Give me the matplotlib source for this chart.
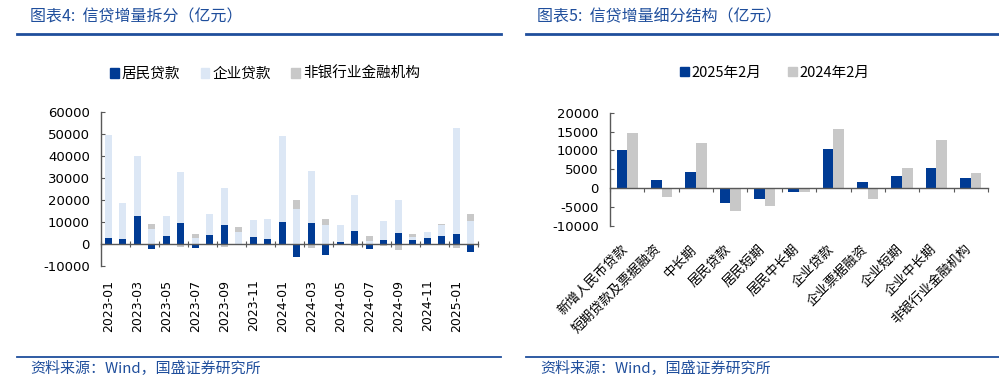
import numpy as np
import matplotlib
matplotlib.use('Agg')
import matplotlib.pyplot as plt
from matplotlib.patches import Patch
from matplotlib.lines import Line2D

plt.rcParams['font.family'] = ['Noto Sans CJK SC', 'DejaVu Sans']
plt.rcParams['axes.unicode_minus'] = False

# 图表4 数据: 2023-01 ~ 2025-02 信贷增量拆分(亿元)
months = ['2023-01', '2023-02', '2023-03', '2023-04', '2023-05', '2023-06',
          '2023-07', '2023-08', '2023-09', '2023-10', '2023-11', '2023-12',
          '2024-01', '2024-02', '2024-03', '2024-04', '2024-05', '2024-06',
          '2024-07', '2024-08', '2024-09', '2024-10', '2024-11', '2024-12',
          '2025-01', '2025-02']
household = [2570, 2000, 12400, -2600, 3600, 9500, -2000, 3800, 8500, -350, 2900, 2100,
             9700, -5900, 9200, -5200, 600, 5600, -2300, 1700, 5000, 1500, 2400, 3500,
             4300, -3900]
corporate = [47000, 16600, 27300, 6500, 9000, 23000, 2400, 9500, 17000, 5500, 8100, 9000,
             39400, 15600, 23800, 8600, 7700, 16400, 1400, 8600, 14900, 1500, 2700, 4800,
             48300, 10300]
nonbank = [0, 0, 0, 2300, 200, -1600, 2000, 0, -1600, 1900, 0, 0,
           0, 4200, -2100, 2800, 0, -1200, 2100, -1200, -2800, 1200, 0, 800,
           -1800, 3100]
series_names = ['居民贷款', '企业贷款', '非银行业金融机构']

# 图表5 数据: 信贷增量细分结构(亿元)
cats = ['新增人民币贷款', '短期贷款及票据融资', '中长期', '居民贷款', '居民短期', '居民中长期',
        '企业贷款', '企业票据融资', '企业短期', '企业中长期', '非银行业金融机构']
feb2025 = [10100, 2200, 4300, -3900, -2800, -1100, 10400, 1700, 3200, 5300, 2800]
feb2024 = [14600, -2300, 12000, -5900, -4800, -900, 15800, -2800, 5300, 12900, 4000]

dark_blue = '#003B94'
light_blue = '#DCE7F5'
grey = '#C8C8C8'
head_blue = '#1F4E9C'
axis_col = '#595959'

W, H = 999, 385
fig = plt.figure(figsize=(W / 100, H / 100), dpi=100)


def px_axes(x0, y0, x1, y1):
    return fig.add_axes([x0 / W, 1 - y1 / H, (x1 - x0) / W, (y1 - y0) / H])


# 标题与分隔线
fig.text(30 / W, 1 - 17 / H, '图表4:  信贷增量拆分（亿元）', color=head_blue, fontsize=11.5,
         va='center', ha='left', style='italic')
fig.text(537 / W, 1 - 17 / H, '图表5:  信贷增量细分结构（亿元）', color=head_blue, fontsize=11.5,
         va='center', ha='left', style='italic')
for xa, xb in [(17, 501), (526, 999)]:
    fig.add_artist(Line2D([xa / W, xb / W], [1 - 34 / H] * 2, color=head_blue, lw=2))
    fig.add_artist(Line2D([xa / W, xb / W], [1 - 356.5 / H] * 2, color=head_blue, lw=1.3))
fig.text(30 / W, 1 - 369 / H, '资料来源：Wind，国盛证券研究所', color=head_blue, fontsize=10.8,
         va='center', ha='left', style='italic')
fig.text(540 / W, 1 - 369 / H, '资料来源：Wind，国盛证券研究所', color=head_blue, fontsize=10.8,
         va='center', ha='left', style='italic')

# ---------------- 左图: 堆叠柱状图 ----------------
ax = px_axes(101, 111.7, 478, 265.7)
x = np.arange(len(months))
pos_base = np.zeros(len(months))
neg_base = np.zeros(len(months))
for vals, col in zip([household, corporate, nonbank], [dark_blue, light_blue, grey]):
    v = np.array(vals, dtype=float)
    base = np.where(v >= 0, pos_base, neg_base)
    ax.bar(x, v, bottom=base, width=0.45, color=col, zorder=2)
    pos_base += np.where(v >= 0, v, 0)
    neg_base += np.where(v < 0, v, 0)

ax.set_xlim(-0.5, len(months) - 0.5)
ax.set_ylim(-10000, 60000)
ax.set_yticks(np.arange(-10000, 60001, 10000))
ax.spines['top'].set_visible(False)
ax.spines['right'].set_visible(False)
ax.spines['bottom'].set_position(('data', 0))
for s in ['left', 'bottom']:
    ax.spines[s].set_color(axis_col)
    ax.spines[s].set_linewidth(1)
ax.set_xticks(np.arange(-0.5, len(months), 2))
ax.set_xticklabels([])
ax.tick_params(axis='x', direction='inout', length=5, color=axis_col)
ax.tick_params(axis='y', direction='in', length=3, color=axis_col, labelsize=9.5, pad=8)
for lab in ax.get_yticklabels():
    lab.set_fontfamily('DejaVu Sans')
for i in range(0, len(months), 2):
    ax.annotate(months[i], xy=(i, 0), xycoords=('data', 'axes fraction'),
                xytext=(0, -10), textcoords='offset points', rotation=90,
                ha='center', va='top', fontsize=9, family='DejaVu Sans')

handles = [Patch(color=c) for c in [dark_blue, light_blue, grey]]
fig.legend(handles, series_names, loc='center', bbox_to_anchor=(265 / W, 1 - 74 / H),
           ncol=3, frameon=False, fontsize=10.5, handlelength=0.6, handleheight=0.6,
           handletextpad=0.2, columnspacing=1.4)

# ---------------- 右图: 分组柱状图 ----------------
ax2 = px_axes(610, 112.7, 988, 226)
xc = np.arange(len(cats))
bw = 0.31
ax2.bar(xc - bw / 2, feb2025, width=bw, color=dark_blue, zorder=2)
ax2.bar(xc + bw / 2, feb2024, width=bw, color=grey, zorder=2)
ax2.set_xlim(-0.5, len(cats) - 0.5)
ax2.set_ylim(-10000, 20000)
ax2.set_yticks(np.arange(-10000, 20001, 5000))
ax2.spines['top'].set_visible(False)
ax2.spines['right'].set_visible(False)
ax2.spines['bottom'].set_position(('data', 0))
for s in ['left', 'bottom']:
    ax2.spines[s].set_color(axis_col)
    ax2.spines[s].set_linewidth(1)
ax2.set_xticks(np.arange(-0.5, len(cats), 1))
ax2.set_xticklabels([])
ax2.tick_params(axis='x', direction='out', length=3, color=axis_col)
ax2.tick_params(axis='y', direction='in', length=3, color=axis_col, labelsize=9.5, pad=8)
for lab in ax2.get_yticklabels():
    lab.set_fontfamily('DejaVu Sans')
for i, c in enumerate(cats):
    ax2.annotate(c, xy=(i, 0), xycoords=('data', 'axes fraction'),
                 xytext=(2, -12), textcoords='offset points', rotation=45,
                 ha='right', va='top', fontsize=9.5)

handles2 = [Patch(color=c) for c in [dark_blue, grey]]
fig.legend(handles2, ['2025年2月', '2024年2月'], loc='center',
           bbox_to_anchor=(775 / W, 1 - 73 / H), ncol=2, frameon=False, fontsize=10.5,
           handlelength=0.6, handleheight=0.6, handletextpad=0.2, columnspacing=1.8)

fig.savefig('out.png', dpi=100)
